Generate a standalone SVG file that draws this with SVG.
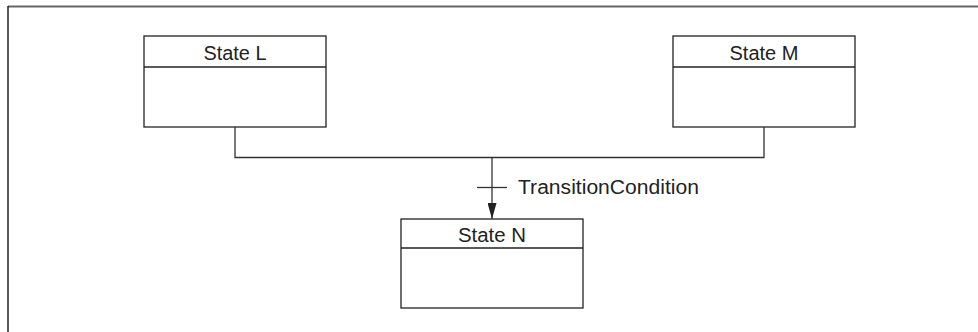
<svg xmlns="http://www.w3.org/2000/svg" width="978" height="332" viewBox="0 0 978 332">
<defs>
<style>
.box{fill:#fff;stroke:#222;stroke-width:1.3}
.div{stroke:#222;stroke-width:1.3}
.lbl{font-family:"Liberation Sans",Arial,sans-serif;font-size:20px;fill:#222;text-anchor:middle}
.conn{fill:none;stroke:#333;stroke-width:1.3}
</style>
<marker id="arr" markerWidth="16" markerHeight="9" refX="16" refY="4.5" orient="auto" markerUnits="userSpaceOnUse" viewBox="0 0 16 9">
<path d="M0,0 L16,4.5 L0,9 Z" fill="#222"/>
</marker>
</defs>
<rect x="0" y="0" width="978" height="332" fill="#fff"/>
<g id="frame">
<line x1="8" y1="6.5" x2="978" y2="6.5" stroke="#666" stroke-width="2"/>
<line x1="8" y1="6" x2="8" y2="332" stroke="#222" stroke-width="1.5"/>
</g>
<g id="stateL">
<rect class="box" x="144" y="36" width="182" height="91"/>
<line class="div" x1="144" y1="67" x2="326" y2="67"/>
<text class="lbl" x="235" y="59.5" textLength="63" lengthAdjust="spacingAndGlyphs">State L</text>
</g>
<g id="stateM">
<rect class="box" x="673" y="36" width="182" height="91"/>
<line class="div" x1="673" y1="67" x2="855" y2="67"/>
<text class="lbl" x="764" y="59.5" textLength="69" lengthAdjust="spacingAndGlyphs">State M</text>
</g>
<g id="stateN">
<rect class="box" x="401" y="219" width="182" height="89"/>
<line class="div" x1="401" y1="248" x2="583" y2="248"/>
<text class="lbl" x="492" y="242" textLength="68" lengthAdjust="spacingAndGlyphs">State N</text>
</g>
<g id="connectors">
<polyline class="conn" points="235,127 235,157.5 764,157.5 764,127"/>
<line class="conn" x1="492" y1="157.5" x2="492" y2="219" marker-end="url(#arr)"/>
<line class="conn" x1="477" y1="187.5" x2="507" y2="187.5"/>
<text x="518" y="194" font-family="'Liberation Sans',Arial,sans-serif" font-size="20" fill="#222" textLength="181" lengthAdjust="spacingAndGlyphs">TransitionCondition</text>
</g>
</svg>
